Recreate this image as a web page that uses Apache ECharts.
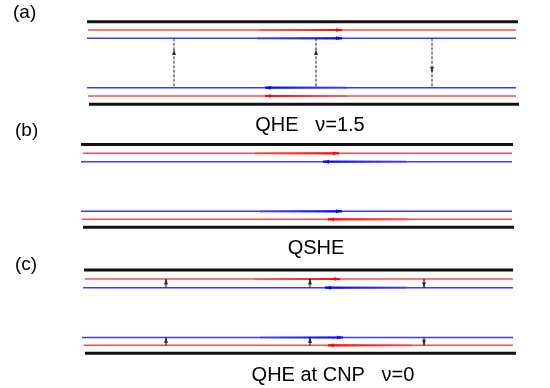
<!DOCTYPE html>
<html>
<head>
<meta charset="utf-8">
<script src="https://cdn.jsdelivr.net/npm/echarts@6/dist/echarts.min.js"></script>
<style>
  html, body { margin: 0; padding: 0; background: #fff; }
  #chart { width: 550px; height: 388px; }
</style>
</head>
<body>
<div id="chart"></div>
<script>
// sample-plane coordinates of the edge channels: [y, xStart, xEnd]
var walls = [[21.7, 87, 518], [104.3, 89, 519], [144.5, 81, 513], [227.3, 83, 514], [270, 84, 513], [353.3, 85, 516]];
var redEdges = [[30, 88, 516], [96, 88, 516], [153.3, 83, 512], [219.3, 82, 512], [279, 85, 513], [345.3, 84, 513]];
var blueEdges = [[38.3, 87, 516], [87.7, 87, 516], [161.7, 81, 512], [211.3, 81, 512], [287.7, 83, 513], [337.5, 82, 513]];

// current direction along each edge: [y, from, to] (arrow at "to")
var redFlow = [[30, 259, 342], [96, 347, 265], [153.3, 255, 339], [219.3, 408, 328], [279, 255, 340], [345.3, 412, 328]];
var blueFlow = [[38.3, 257, 342], [87.7, 347, 265], [161.7, 406, 323], [211.3, 260, 342], [287.7, 407, 325], [337.5, 260, 343]];

// backscattering across the bulk in (a): [x, yTop, yBottom, arrowY, dir]
var hops = [[174, 38.3, 87.7, 52, 'up'], [316, 38.3, 87.7, 52, 'up'], [432, 38.3, 87.7, 70, 'down']];

// spin-flip scattering between edge pairs in (c): [x, yTop, yBottom, dir]
var tunnels = [
    [166, 279, 287.7, 'up'], [310, 279, 287.7, 'up'], [424, 279, 287.7, 'down'],
    [166, 337.5, 345.3, 'up'], [310, 337.5, 345.3, 'up'], [424, 337.5, 345.3, 'down']
];

var panelLabels = ['(a)', '(b)', '(c)'];
var panelTitles = ['QHE   \u03bd=1.5', 'QSHE', 'QHE at CNP   \u03bd=0'];

var chart = echarts.init(document.getElementById('chart'));

var series = [];
var heads = [];

function hline(row, color, width) {
    series.push({
        type: 'line',
        data: [[row[1], row[0]], [row[2], row[0]]],
        symbol: 'none',
        silent: true,
        lineStyle: { color: color, width: width }
    });
}

walls.forEach(function (r) { hline(r, '#111', 3); });
redEdges.forEach(function (r) { hline(r, '#ff4a4a', 1.4); });
blueEdges.forEach(function (r) { hline(r, '#3a3aff', 1.4); });

function flow(row, faded, solid) {
    var rightward = row[2] > row[1];
    series.push({
        type: 'line',
        data: [[row[1], row[0]], [row[2], row[0]]],
        symbol: 'none',
        silent: true,
        lineStyle: {
            width: 2.2,
            color: new echarts.graphic.LinearGradient(rightward ? 0 : 1, 0, rightward ? 1 : 0, 0, [
                { offset: 0, color: faded },
                { offset: 1, color: solid }
            ])
        }
    });
    heads.push({ value: [row[2] + (rightward ? -3 : 3), row[0], rightward ? -90 : 90], itemStyle: { color: solid } });
}

redFlow.forEach(function (r) { flow(r, 'rgba(255,60,60,0.45)', '#ff0000'); });
blueFlow.forEach(function (r) { flow(r, 'rgba(60,60,255,0.45)', '#0000ee'); });

hops.forEach(function (h) {
    series.push({
        type: 'line',
        data: [[h[0], h[1]], [h[0], h[2]]],
        symbol: 'none',
        silent: true,
        lineStyle: { color: '#222', width: 1, type: [3, 1.5] }
    });
    heads.push({ value: [h[0], h[3], h[4] === 'up' ? 0 : 180], itemStyle: { color: '#111' } });
});

tunnels.forEach(function (t) {
    series.push({
        type: 'line',
        data: [[t[0], t[1]], [t[0], t[2]]],
        symbol: 'none',
        silent: true,
        lineStyle: { color: '#111', width: 1 }
    });
    var y = t[3] === 'up' ? t[1] + 2.5 : t[2] - 2.5;
    heads.push({ value: [t[0], y, t[3] === 'up' ? 0 : 180], itemStyle: { color: '#111' } });
});

series.push({
    type: 'scatter',
    data: heads,
    symbol: 'triangle',
    symbolSize: [4, 6],
    symbolRotate: function (v) { return v[2]; },
    silent: true,
    z: 5
});

var labelPos = [[13, 13], [15, 131], [15, 265]];
var titlePos = [[310, 125], [316, 248], [333, 375]];
var texts = [];
panelLabels.forEach(function (s, i) {
    texts.push({
        type: 'text', x: labelPos[i][0], y: labelPos[i][1], silent: true,
        style: { text: s, font: '19px "Liberation Sans", Arial, sans-serif', fill: '#000', textAlign: 'left', textVerticalAlign: 'middle' }
    });
});
panelTitles.forEach(function (s, i) {
    texts.push({
        type: 'text', x: titlePos[i][0], y: titlePos[i][1], silent: true,
        style: { text: s, font: '20px "Liberation Sans", Arial, sans-serif', fill: '#000', textAlign: 'center', textVerticalAlign: 'middle' }
    });
});

var option = {
    animation: false,
    backgroundColor: '#fff',
    grid: { left: 0, right: 0, top: 0, bottom: 0 },
    xAxis: { type: 'value', min: 0, max: 550, show: false },
    yAxis: { type: 'value', min: 0, max: 388, inverse: true, show: false },
    graphic: texts,
    series: series
};

chart.setOption(option);
</script>
</body>
</html>
